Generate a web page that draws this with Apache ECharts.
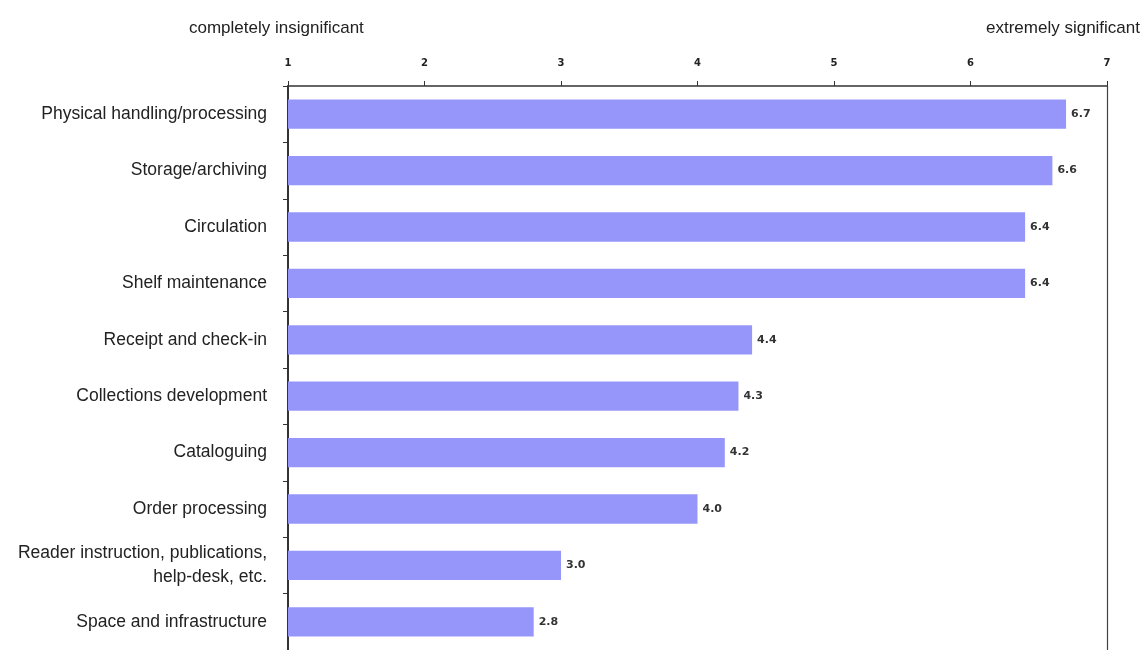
<!DOCTYPE html>
<html>
<head>
<meta charset="utf-8">
<script src="https://cdn.jsdelivr.net/npm/echarts@6/dist/echarts.min.js"></script>
<style>
  html, body { margin: 0; padding: 0; background: #fff; }
  #chart { width: 1143px; height: 650px; }
</style>
</head>
<body>
<div id="chart"></div>
<script>
// Activities, rated on a 1–7 significance scale
const categories = [
  'Physical handling/processing',
  'Storage/archiving',
  'Circulation',
  'Shelf maintenance',
  'Receipt and check-in',
  'Collections development',
  'Cataloguing',
  'Order processing',
  'Reader instruction, publications,\nhelp-desk, etc.',
  'Space and infrastructure'
];
const ratings = [6.7, 6.6, 6.4, 6.4, 4.4, 4.3, 4.2, 4.0, 3.0, 2.8];
const scaleTicks = [1, 2, 3, 4, 5, 6, 7];
const scaleEnds = ['completely insignificant', 'extremely significant'];

const chart = echarts.init(document.getElementById('chart'));
const font = 'Liberation Sans, Arial, sans-serif';
const smallFont = 'DejaVu Sans, Verdana, sans-serif';

chart.setOption({
  animation: false,
  backgroundColor: '#ffffff',
  textStyle: { fontFamily: font },
  graphic: [
    { type: 'text', left: 189, top: 20,
      style: { text: scaleEnds[0], font: '17px ' + font, fill: '#222' } },
    { type: 'text', right: 3, top: 20,
      style: { text: scaleEnds[1], font: '17px ' + font, fill: '#222', textAlign: 'right' } }
  ],
  grid: { left: 288, right: 36, top: 86, height: 570 },
  xAxis: {
    type: 'value',
    position: 'top',
    min: scaleTicks[0],
    max: scaleTicks[scaleTicks.length - 1],
    interval: 1,
    axisLine: { show: true, lineStyle: { color: '#333', width: 1.5 } },
    axisTick: { show: true, length: 5, lineStyle: { color: '#333' } },
    axisLabel: { margin: 18, fontSize: 10, color: '#222', fontWeight: 'bold', fontFamily: smallFont },
    splitLine: { show: false }
  },
  yAxis: [{
    type: 'category',
    data: categories,
    inverse: true,
    axisLine: { show: true, lineStyle: { color: '#333', width: 2 } },
    axisTick: { show: true, length: 5, alignWithLabel: false, lineStyle: { color: '#333' } },
    axisLabel: { margin: 21, fontSize: 17.5, color: '#222', lineHeight: 24, align: 'right' }
  }, {
    // right-hand frame line
    type: 'category',
    data: categories,
    inverse: true,
    position: 'right',
    axisLine: { show: true, lineStyle: { color: '#444', width: 1.2 } },
    axisTick: { show: false },
    axisLabel: { show: false }
  }],
  series: [{
    type: 'bar',
    data: ratings,
    barWidth: '52%',
    itemStyle: { color: '#9696fa' },
    label: {
      show: true,
      position: 'right',
      distance: 5,
      fontSize: 11,
      fontWeight: 'bold',
      fontFamily: smallFont,
      color: '#333',
      formatter: p => p.value.toFixed(1)
    }
  }]
});
</script>
</body>
</html>
